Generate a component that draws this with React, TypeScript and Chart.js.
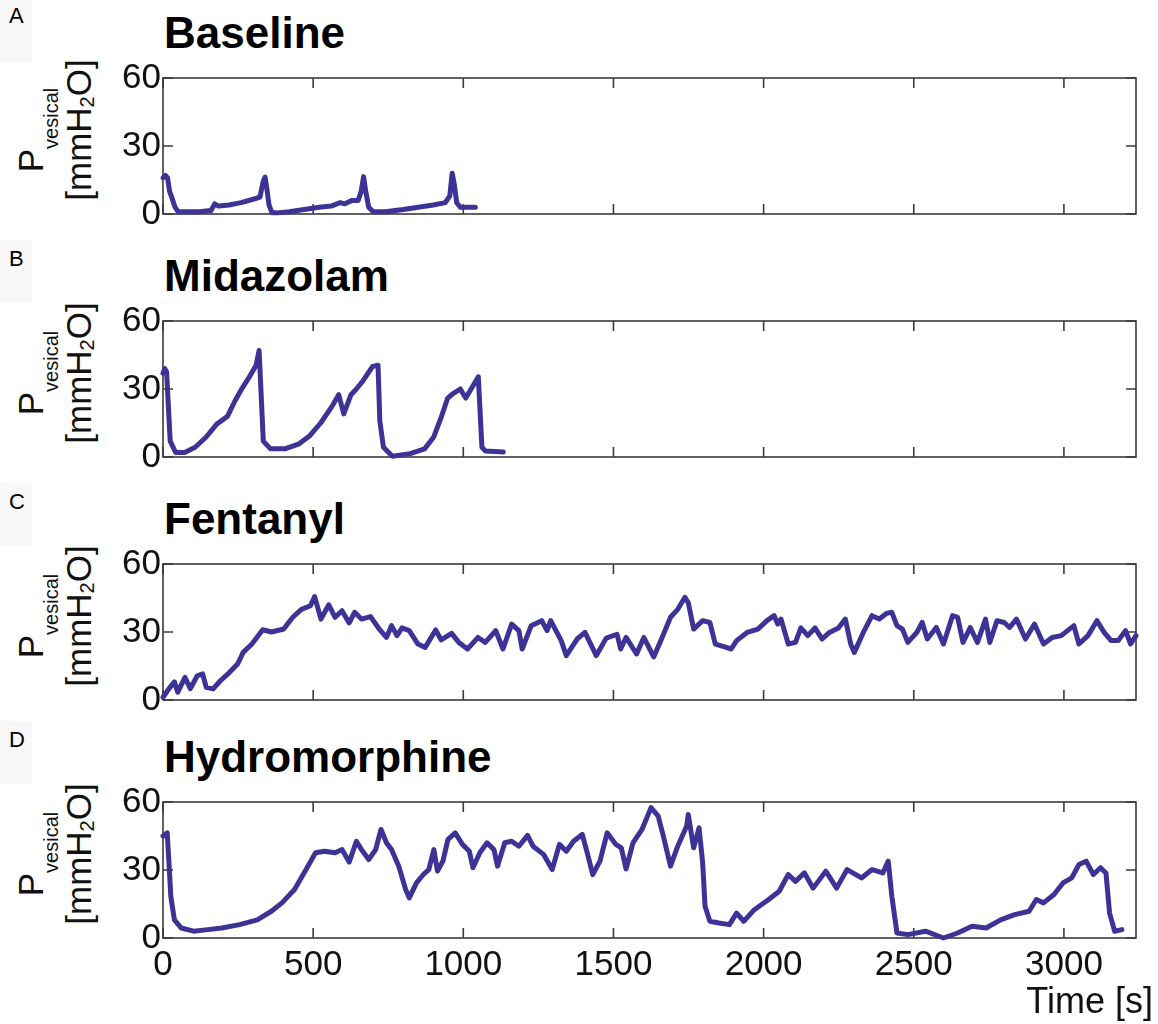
import React, { useEffect, useRef } from 'react';
import { Chart, registerables } from 'chart.js';

Chart.register(...registerables);

// ---------- data ----------
const X_MAX = 3240;
const X_TICKS = [0, 500, 1000, 1500, 2000, 2500, 3000];
const Y_TICKS = [0, 30, 60];
const PANEL_LETTERS = ['A', 'B', 'C', 'D'];
const PANEL_TITLES = ['Baseline', 'Midazolam', 'Fentanyl', 'Hydromorphine'];
const X_LABEL = 'Time [s]';

// [time (s), P_vesical (mmH2O)]
const baselineTrace = [
  [0, 16], [8, 17], [15, 16], [22, 10], [30, 7], [40, 3], [50, 1], [80, 1], [120, 1], [160, 1.5],
  [172, 4.5], [185, 3.5], [220, 4], [260, 5], [300, 6.5], [323, 7.5], [333, 14], [340, 16.3],
  [346, 11], [353, 4], [363, 0.5], [380, 0.5], [420, 1], [470, 2], [520, 3], [560, 3.5], [590, 5],
  [605, 4.5], [630, 6], [650, 6], [660, 10], [668, 16.5], [675, 10], [685, 3], [700, 1], [740, 1],
  [800, 2], [850, 3], [900, 4], [940, 5], [955, 8], [963, 18], [970, 13], [978, 5], [990, 3], [1040, 3],
];

const midazolamTrace = [
  [0, 37], [6, 39], [12, 37.5], [24, 7], [42, 2], [72, 2], [107, 4.3], [143, 8.7], [179, 14.5],
  [215, 18], [239, 24.6], [262, 30], [286, 35], [310, 40.5], [320, 47], [334, 7], [358, 3.6],
  [406, 3.6], [453, 5.8], [489, 9.4], [525, 15], [561, 22], [585, 27.5], [602, 19], [626, 27.5],
  [644, 30], [668, 34], [698, 40], [716, 40.5], [722, 16], [734, 4.3], [764, 0.3], [823, 1.5],
  [871, 3.6], [901, 8.7], [925, 17], [948, 26], [966, 28], [990, 30], [1008, 26], [1026, 30],
  [1050, 35.4], [1062, 4.3], [1074, 2.6], [1133, 2.2],
];

const fentanylTrace = [
  [0, 1.2], [20, 5], [38, 8], [49, 3.4], [73, 10], [91, 5], [114, 10.7], [132, 11.5], [144, 5.6],
  [167, 4.9], [191, 8.5], [220, 12], [249, 16], [267, 21], [296, 24.7], [332, 31], [361, 30],
  [402, 31.3], [432, 36.5], [461, 40], [491, 41.6], [505, 45.6], [526, 35.7], [552, 42], [573, 36.5],
  [596, 39.4], [620, 34], [638, 38.7], [661, 35.7], [691, 36.8], [720, 31.3], [744, 27.6],
  [761, 32.8], [779, 28.4], [796, 31.8], [820, 30.6], [849, 24.7], [873, 23.2], [908, 30.9],
  [926, 26.5], [961, 29.4], [985, 25.4], [1014, 22.5], [1049, 27.6], [1073, 25.4], [1108, 30.6],
  [1132, 22.5], [1161, 33.5], [1185, 30.6], [1196, 22.5], [1226, 32.8], [1261, 35], [1279, 30.6],
  [1291, 35], [1326, 26.2], [1343, 19.6], [1379, 26.9], [1405, 29.8], [1443, 19.6], [1476, 27.3],
  [1512, 29], [1524, 22.5], [1542, 27.6], [1577, 20.3], [1601, 27.6], [1634, 19], [1660, 26.9],
  [1690, 36.5], [1714, 40], [1738, 45.3], [1749, 43], [1767, 31.3], [1797, 35], [1821, 34.2],
  [1839, 24.7], [1868, 23.5], [1892, 22.5], [1910, 26.2], [1945, 29.8], [1981, 31.3], [2011, 35],
  [2035, 37.2], [2047, 33.5], [2058, 35.7], [2082, 24.7], [2106, 25.4], [2124, 31.8], [2147, 28.4],
  [2171, 31.8], [2195, 26.9], [2219, 29.8], [2249, 31.8], [2272, 35.7], [2290, 24.7], [2302, 21],
  [2332, 29.8], [2361, 37.2], [2385, 35.7], [2409, 38.2], [2427, 38.7], [2444, 32.8], [2462, 31.3],
  [2480, 25.4], [2510, 29.8], [2528, 34.2], [2545, 26.9], [2575, 32], [2599, 24.7], [2629, 37.2],
  [2646, 36.5], [2664, 25.4], [2688, 32], [2712, 25.4], [2739, 35.7], [2753, 25.4], [2777, 35],
  [2801, 34.2], [2819, 32], [2842, 35.7], [2872, 26.9], [2902, 33.5], [2932, 24.7], [2961, 27.6],
  [2991, 28.4], [3033, 32.8], [3050, 24.7], [3080, 28.4], [3110, 35], [3134, 29.8], [3157, 26.2],
  [3181, 26.2], [3205, 30.6], [3222, 24.7], [3240, 28.4],
];

const hydromorphineTrace = [
  [0, 45], [14, 46.4], [20, 33], [26, 18.4], [38, 8], [61, 4.4], [102, 3], [149, 3.7], [196, 4.4],
  [255, 5.9], [314, 8], [361, 11.8], [396, 15.5], [438, 21.4], [473, 29.5], [508, 37.6], [538, 38.3],
  [573, 37.6], [596, 39], [620, 33.5], [644, 42.7], [661, 39], [685, 34.6], [708, 39], [726, 47.9],
  [744, 42], [761, 39], [785, 31.7], [808, 21.4], [820, 17.7], [844, 24.3], [867, 28], [885, 30.2],
  [902, 39], [914, 29.5], [932, 33.9], [949, 43.5], [973, 46.4], [997, 41.3], [1020, 38.3], [1032, 31],
  [1055, 37.6], [1079, 42], [1102, 39], [1114, 31.7], [1138, 42], [1161, 42.7], [1185, 40.5],
  [1214, 45.3], [1232, 40.5], [1267, 36.9], [1296, 30.2], [1320, 41.3], [1343, 38.3], [1367, 42.7],
  [1396, 45.7], [1414, 36.9], [1431, 28], [1455, 33.9], [1479, 46.4], [1508, 41.3], [1526, 39.8],
  [1542, 30.5], [1565, 42], [1595, 47.9], [1625, 57.5], [1649, 53.8], [1666, 45], [1690, 31.7],
  [1714, 40.5], [1744, 49.4], [1749, 54.5], [1767, 39.8], [1785, 48.6], [1797, 33.2], [1805, 14],
  [1821, 7.4], [1851, 6.6], [1886, 5.9], [1910, 11], [1934, 7.4], [1969, 12.5], [2017, 17], [2052, 20.6],
  [2082, 28], [2106, 25], [2136, 28.7], [2165, 22], [2207, 29.5], [2243, 22], [2278, 30.2], [2326, 26.5],
  [2361, 30.2], [2397, 28.7], [2415, 33.9], [2427, 18.4], [2444, 2.2], [2480, 1.5], [2539, 3],
  [2599, 0], [2646, 2.2], [2694, 5.2], [2741, 4.4], [2789, 8], [2836, 10.3], [2884, 11.8], [2908, 17],
  [2932, 15.5], [2967, 19.2], [2997, 24.3], [3026, 26.5], [3050, 32.4], [3074, 33.9], [3098, 28],
  [3122, 31], [3140, 28.7], [3152, 11], [3169, 3], [3193, 3.7],
];

const TRACES = [baselineTrace, midazolamTrace, fentanylTrace, hydromorphineTrace];

// ---------- layout / style ----------
const FONT = "'Liberation Sans', Arial, Helvetica, sans-serif";
const LINE_COLOR = '#3d3296';
const AXIS_COLOR = '#3a3a3a';
const PANEL_TOPS = [78, 321, 564, 802];
const PLOT_H = 136;
const PLOT_LEFT = 163;
const PLOT_RIGHT = 1136;
const CANVAS_LEFT = 100;
const PAD_TOP = 30;

const framePlugin = {
  id: 'matlabFrame',
  beforeDatasetsDraw(chart: any) {
    const { ctx, chartArea, scales } = chart;
    const { left, right, top, bottom } = chartArea;
    const L = 10;
    ctx.save();
    ctx.strokeStyle = AXIS_COLOR;
    ctx.lineWidth = 1.6;
    ctx.strokeRect(left, top, right - left, bottom - top);
    ctx.beginPath();
    X_TICKS.forEach((v) => {
      const px = scales.x.getPixelForValue(v);
      ctx.moveTo(px, bottom);
      ctx.lineTo(px, bottom - L);
      ctx.moveTo(px, top);
      ctx.lineTo(px, top + L);
    });
    Y_TICKS.forEach((v) => {
      const py = scales.y.getPixelForValue(v);
      ctx.moveTo(left, py);
      ctx.lineTo(left + L, py);
      ctx.moveTo(right, py);
      ctx.lineTo(right - L, py);
    });
    ctx.stroke();
    ctx.restore();
  },
};

function Panel({ index }: { index: number }) {
  const ref = useRef<HTMLCanvasElement>(null);
  const isLast = index === PANEL_TITLES.length - 1;
  const top = PANEL_TOPS[index];
  const bottomSpace = isLast ? 60 : 30;
  const canvasW = 1158 - CANVAS_LEFT;
  const canvasH = PAD_TOP + PLOT_H + bottomSpace;

  useEffect(() => {
    if (!ref.current) return;
    const chart = new Chart(ref.current, {
      type: 'line',
      data: {
        datasets: [
          {
            data: TRACES[index].map(([t, p]) => ({ x: t, y: p })),
            borderColor: LINE_COLOR,
            borderWidth: 5,
            pointRadius: 0,
            tension: 0,
            fill: false,
            borderJoinStyle: 'round',
            borderCapStyle: 'round',
            clip: 8,
          } as any,
        ],
      },
      options: {
        animation: false,
        responsive: false,
        maintainAspectRatio: false,
        devicePixelRatio: 1,
        layout: {
          padding: { left: 0, right: 1158 - PLOT_RIGHT, top: PAD_TOP, bottom: isLast ? 0 : bottomSpace },
        },
        plugins: { legend: { display: false }, tooltip: { enabled: false }, title: { display: false } },
        scales: {
          x: {
            type: 'linear',
            min: 0,
            max: X_MAX,
            grid: { display: false, drawTicks: false },
            border: { display: false },
            ticks: {
              display: isLast,
              font: { family: FONT, size: 35 },
              color: '#111',
              padding: 6,
              maxRotation: 0,
              autoSkip: false,
              callback: (v: any) => String(v),
            },
            afterBuildTicks: (axis: any) => {
              axis.ticks = X_TICKS.map((v) => ({ value: v }));
            },
            afterFit: (axis: any) => {
              axis.height = isLast ? bottomSpace : 0;
            },
          },
          y: {
            type: 'linear',
            min: 0,
            max: 60,
            grid: { display: false, drawTicks: false },
            border: { display: false },
            ticks: {
              font: { family: FONT, size: 35 },
              color: '#111',
              padding: 2,
              callback: (v: any) => String(v),
            },
            afterBuildTicks: (axis: any) => {
              axis.ticks = Y_TICKS.map((v) => ({ value: v }));
            },
            afterFit: (axis: any) => {
              axis.width = PLOT_LEFT - CANVAS_LEFT;
            },
          },
        },
      } as any,
      plugins: [framePlugin],
    });
    return () => chart.destroy();
  }, [index]);

  const labelCx = 55;
  const labelCy = top + 52;

  return (
    <>
      <div
        style={{
          position: 'absolute', left: 0, top: Math.max(0, top - 81), width: 32, height: 63,
          background: '#f8f8f8',
        }}
      />
      <div
        style={{
          position: 'absolute', left: 9, top: top - 73, fontFamily: FONT, fontSize: 22,
          lineHeight: 1, color: '#000',
        }}
      >
        {PANEL_LETTERS[index]}
      </div>
      <div
        style={{
          position: 'absolute', left: 164, top: top - 67, fontFamily: FONT, fontSize: 44,
          fontWeight: 'bold', lineHeight: 1, color: '#000', whiteSpace: 'nowrap',
        }}
      >
        {PANEL_TITLES[index]}
      </div>
      <div
        style={{
          position: 'absolute', left: labelCx - 100, top: labelCy - 48, width: 200, height: 96,
          transform: 'rotate(-90deg)', transformOrigin: 'center center', fontFamily: FONT,
          fontSize: 35, color: '#111', textAlign: 'center', whiteSpace: 'nowrap',
        }}
      >
        <div style={{ height: 48, lineHeight: '48px' }}>
          P<span style={{ fontSize: 20, position: 'relative', top: 15, lineHeight: 0 }}>vesical</span>
        </div>
        <div style={{ height: 48, lineHeight: '48px' }}>
          [mmH<span style={{ fontSize: 20, position: 'relative', top: 3, lineHeight: 0 }}>2</span>O]
        </div>
      </div>
      <canvas
        ref={ref}
        width={canvasW}
        height={canvasH}
        style={{
          position: 'absolute', left: CANVAS_LEFT, top: top - PAD_TOP, width: canvasW, height: canvasH,
        }}
      />
    </>
  );
}

export default function App() {
  return (
    <div
      style={{
        position: 'absolute', left: 0, top: 0, width: 1158, height: 1024, background: '#fff',
        overflow: 'hidden',
      }}
    >
      {PANEL_TITLES.map((_, i) => (
        <Panel key={i} index={i} />
      ))}
      <div
        style={{
          position: 'absolute', right: 5, top: 983, fontFamily: FONT, fontSize: 36, lineHeight: 1,
          color: '#111', whiteSpace: 'nowrap',
        }}
      >
        {X_LABEL}
      </div>
    </div>
  );
}
